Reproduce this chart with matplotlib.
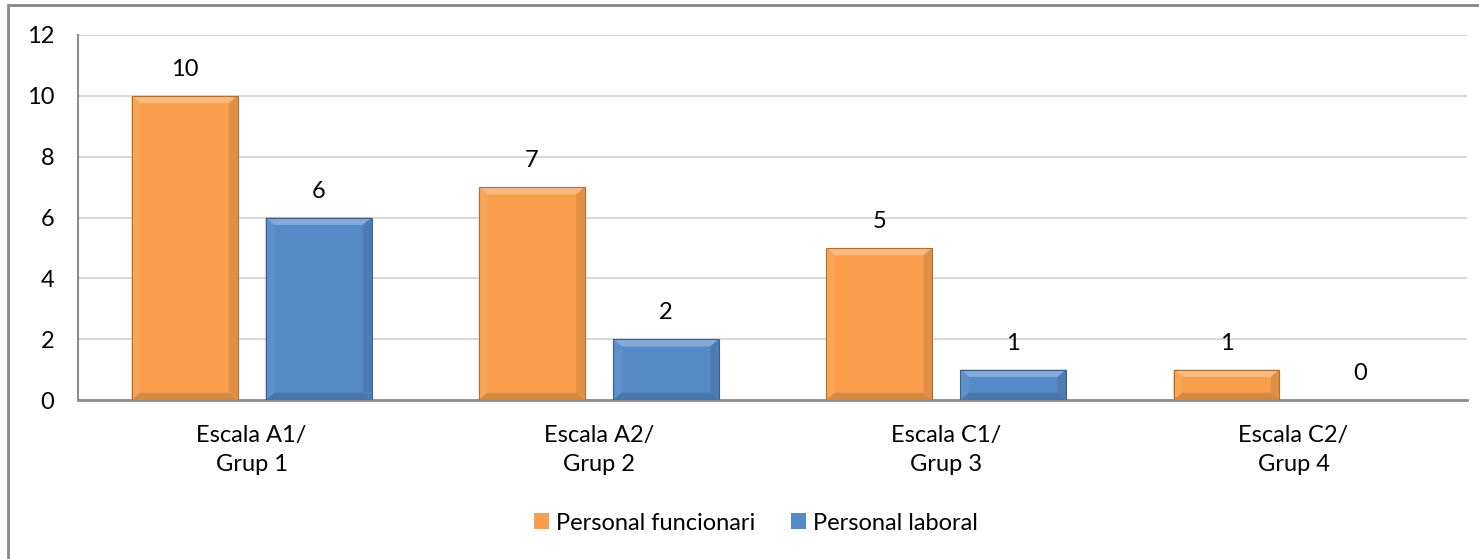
import numpy as np
import matplotlib.pyplot as plt
from matplotlib.patches import Polygon, Rectangle
from matplotlib.colors import to_rgb

plt.rcParams['font.family'] = ['Lato', 'DejaVu Sans']

categories = ["Escala A1/\nGrup 1", "Escala A2/\nGrup 2", "Escala C1/\nGrup 3", "Escala C2/\nGrup 4"]
funcionari = [10, 7, 5, 1]
laboral = [6, 2, 1, 0]
series_names = ["Personal funcionari", "Personal laboral"]
colors = ["#F99F4B", "#5589C8"]
fs = 17


def mix(c, other, t):
    c = np.array(to_rgb(c))
    return tuple(c * (1 - t) + np.array(other) * t)


def bevel(ax, rect, color, dx=0.025, dy=0.24):
    # fake bevel: lighter top/left edge, darker right/bottom edge
    x0, w, h = rect.get_x(), rect.get_width(), rect.get_height()
    if h <= 0:
        return
    x1, y1 = x0 + w, h
    dy = min(dy, h / 3.5)
    top = [(x0, y1), (x1, y1), (x1 - dx, y1 - dy), (x0 + dx, y1 - dy)]
    left = [(x0, 0), (x0, y1), (x0 + dx, y1 - dy), (x0 + dx, dy)]
    right = [(x1, 0), (x1, y1), (x1 - dx, y1 - dy), (x1 - dx, dy)]
    bottom = [(x0, 0), (x1, 0), (x1 - dx, dy), (x0 + dx, dy)]
    for pts, shade in [(top, mix(color, (1, 1, 1), 0.28)),
                       (left, mix(color, (1, 1, 1), 0.06)),
                       (right, mix(color, (0, 0, 0), 0.1)),
                       (bottom, mix(color, (0, 0, 0), 0.14))]:
        ax.add_patch(Polygon(pts, closed=True, facecolor=shade, edgecolor='none', zorder=3))
    ax.add_patch(Rectangle((x0, 0), w, h, fill=False, edgecolor=mix(color, (0, 0, 0), 0.3),
                           linewidth=0.8, zorder=4))


fig = plt.figure(figsize=(14.79, 5.59), dpi=100)
ax = fig.add_axes([0.0527, 0.2844, 0.9393, 0.653])

x = np.arange(len(categories))
w = 0.305
off = 0.193
b1 = ax.bar(x - off, funcionari, w, color=colors[0], zorder=2, label=series_names[0])
b2 = ax.bar(x + off, laboral, w, color=colors[1], zorder=2, label=series_names[1])

for bars, vals, c in [(b1, funcionari, colors[0]), (b2, laboral, colors[1])]:
    for r, v in zip(bars, vals):
        bevel(ax, r, c)
        ax.annotate(str(v), (r.get_x() + r.get_width() / 2, v), xytext=(0, 19),
                    textcoords='offset points', ha='center', va='center', fontsize=fs)

ax.set_xlim(-0.5, len(categories) - 0.5)
ax.set_ylim(0, 12)
ax.set_yticks(range(0, 13, 2))
ax.set_xticks(x)
ax.set_xticklabels(categories, fontsize=fs, linespacing=1.45)
ax.tick_params(axis='x', length=0, pad=18)
ax.tick_params(axis='y', length=0, pad=17, labelsize=fs)
ax.grid(axis='y', color='#D9D9D9', linewidth=1.5, zorder=0)
ax.set_axisbelow(True)
for s in ['top', 'right']:
    ax.spines[s].set_visible(False)
ax.spines['left'].set_color('#8C8C8C')
ax.spines['left'].set_linewidth(1.5)
ax.spines['bottom'].set_color('#8C8C8C')
ax.spines['bottom'].set_linewidth(2)

fig.legend(loc='center', bbox_to_anchor=(756 / 1479, 1 - 523 / 559), ncol=2, frameon=False,
           fontsize=fs, handlelength=0.65, handleheight=0.65, handletextpad=0.3, columnspacing=1.5)

# outer chart frame (right and bottom edges fall outside the image)
fig.add_artist(Rectangle((8 / 1479, -0.1), 1.2, 1 - 5 / 559 + 0.1, transform=fig.transFigure,
                         fill=False, edgecolor='#878787', linewidth=2))

fig.savefig("out.png", dpi=100)
